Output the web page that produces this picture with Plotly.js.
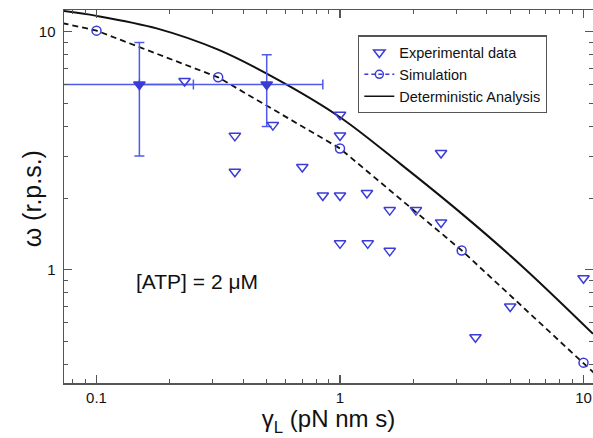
<!DOCTYPE html>
<html>
<head>
<meta charset="utf-8">
<script src="https://cdn.plot.ly/plotly-3.0.1.min.js"></script>
<style>html,body{margin:0;padding:0;background:#fff;}#chart{width:593px;height:438px;}</style>
</head>
<body>
<div id="chart"></div>
<script>
// Experimental data (no error bars)
var expX = [0.23, 0.53, 0.37, 0.37, 0.70, 1.0, 1.0, 2.6, 0.85, 1.0, 1.29, 1.6, 2.05, 2.6, 1.0, 1.3, 1.6, 10, 5.0, 3.6];
var expY = [6.2, 4.05, 3.65, 2.58, 2.7, 4.48, 3.66, 3.09, 2.05, 2.05, 2.1, 1.78, 1.78, 1.58, 1.29, 1.29, 1.2, 0.92, 0.70, 0.52];
// Experimental data with error bars
var errPtX = [0.15, 0.5];
var errPtY = [6.0, 6.0];
var errPtDX = [0.1, 0.35];
var errPtDY = [3.0, 2.0];
// Simulation points (first and last lie just outside the visible range)
var simX = [0.0316, 0.1, 0.316, 1.0, 3.16, 10, 31.6];
var simY = [13.1, 10.1, 6.43, 3.23, 1.205, 0.407, 0.136];
// Deterministic analysis curve
var detX = [0.0735, 0.1, 0.178, 0.316, 0.562, 1.0, 1.78, 3.16, 5.62, 10.94];
var detY = [12.2, 11.65, 10.3, 8.4, 6.24, 4.37, 2.77, 1.72, 1.03, 0.538];
// Tick labels
var xTicks = [0.1, 1, 10];
var xTickText = ['0.1', '1', '10'];
var yTicks = [1, 10];
var yTickText = ['1', '10'];

var blue = '#3b3bd6';
var errBlue = '#4d5be8';
var font = 'Liberation Sans, Arial, Helvetica, sans-serif';

var traces = [
  {x: detX, y: detY, mode: 'lines', line: {color: '#111', width: 2, shape: 'spline', smoothing: 1}, showlegend: false, hoverinfo: 'skip'},
  {x: simX, y: simY, mode: 'lines+markers', showlegend: false, line: {color: '#111', width: 1.8, dash: '6px,4px'},
   marker: {symbol: 'circle-open', size: 9, color: blue, line: {color: blue, width: 1.5}}},
  {x: errPtX, y: errPtY, mode: 'markers', marker: {symbol: 'triangle-down', size: 10, color: blue, line: {color: blue, width: 1.5}},
   error_y: {type: 'data', array: errPtDY, color: errBlue, thickness: 1.5, width: 5},
   error_x: {type: 'data', array: errPtDX, color: errBlue, thickness: 1.5, width: 5}, showlegend: false},
  {x: expX, y: expY, mode: 'markers', name: 'Experimental data', marker: {symbol: 'triangle-down-open', size: 10, color: blue, line: {color: blue, width: 1.5}}},
  {x: [null], y: [null], mode: 'lines+markers', name: 'Simulation', line: {color: blue, width: 1.5, dash: '4px,3px'}, marker: {symbol: 'circle-open', size: 8, color: blue, line: {color: blue, width: 1.5}}},
  {x: [null], y: [null], mode: 'lines', name: 'Deterministic Analysis', line: {color: '#111', width: 1.5}}
];

var axCommon = {
  type: 'log', showgrid: false, zeroline: false, showline: true, linecolor: '#555', linewidth: 1.5,
  mirror: 'allticks', ticks: 'inside', ticklen: 8, tickwidth: 1.2, tickcolor: '#555',
  minor: {ticks: 'inside', ticklen: 4, tickwidth: 1, tickcolor: '#555', dtick: 'D1', showgrid: false},
  tickfont: {family: font, size: 15, color: '#111'}
};

var layout = {
  width: 593, height: 438,
  margin: {l: 64, r: 0, t: 10, b: 55},
  paper_bgcolor: '#fff', plot_bgcolor: '#fff',
  font: {family: font, color: '#111'},
  xaxis: Object.assign({}, axCommon, {
    range: [-1.1335, 1.039], tickmode: 'array', tickvals: xTicks, ticktext: xTickText,
    title: {text: 'γ<sub>L</sub> (pN nm s)', font: {family: font, size: 24}, standoff: 2}
  }),
  yaxis: Object.assign({}, axCommon, {
    range: [-0.476, 1.091], tickmode: 'array', tickvals: yTicks, ticktext: yTickText,
    ticklabelstandoff: 4
  }),
  legend: {x: 0.556, y: 0.932, xanchor: 'left', yanchor: 'top', bgcolor: '#fff', bordercolor: '#555', borderwidth: 1.2,
    font: {family: font, size: 14.5, color: '#111'}, tracegroupgap: 0},
  annotations: [
    {xref: 'paper', yref: 'paper', x: 0.2505, y: 0.2708, text: '[ATP] = 2 μM', showarrow: false,
     font: {family: font, size: 21, color: '#111'}, xanchor: 'center', yanchor: 'middle'},
    {xref: 'paper', yref: 'paper', x: -0.0605, y: 0.495, text: 'ω (r.p.s.)', textangle: -90, showarrow: false,
     font: {family: font, size: 25, color: '#111'}, xanchor: 'center', yanchor: 'middle'}
  ]
};

Plotly.newPlot('chart', traces, layout, {displayModeBar: false, staticPlot: true});
</script>
</body>
</html>
